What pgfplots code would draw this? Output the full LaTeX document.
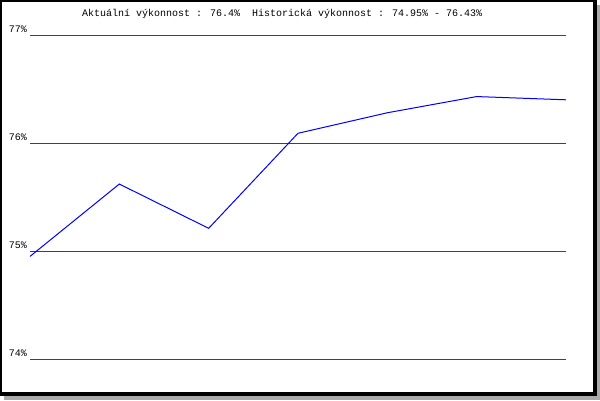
\documentclass[border=0pt]{standalone}
\usepackage{fontspec}
\setmainfont{Liberation Mono}
\usepackage{pgfplots}
\pgfplotsset{compat=1.18}

\definecolor{gridred}{RGB}{220,0,0}
\definecolor{shadowgray}{RGB}{170,170,170}

\begin{document}
\begin{tikzpicture}[x=1pt,y=1pt]
  \useasboundingbox (0,0) rectangle (600,400);
  % frame with shadow
  \fill[shadowgray] (4,0) rectangle (600,395);
  \fill[black] (0,4) rectangle (597,400);
  \fill[white] (2,8) rectangle (593,398);
  \node[anchor=base west, inner sep=0pt, font=\fontsize{10}{12}\selectfont]
    at (82,383) {Aktuální výkonnost : 76.4\%~~Historická výkonnost : 74.95\% - 76.43\%};
  \begin{axis}[
    at={(30pt,41pt)}, anchor=origin,
    scale only axis,
    width=536pt, height=324pt,
    xmin=0, xmax=6,
    ymin=74, ymax=77,
    axis line style={draw=none},
    xtick=\empty,
    ytick={74,75,76,77},
    yticklabels={74\%,75\%,76\%,77\%},
    major tick length=0pt,
    ymajorgrids,
    grid style={gridred, line width=1pt},
    yticklabel style={anchor=base east, inner sep=0pt, xshift=-3pt, yshift=3pt,
      font=\fontsize{10}{12}\selectfont},
    /pgf/number format/assume math mode=true,
    clip=false,
  ]
    \addplot[blue, line width=1pt] coordinates {
      (0,74.95) (1,75.62) (2,75.21) (3,76.09) (4,76.28) (5,76.43) (6,76.40)
    };
  \end{axis}
\end{tikzpicture}
\end{document}
